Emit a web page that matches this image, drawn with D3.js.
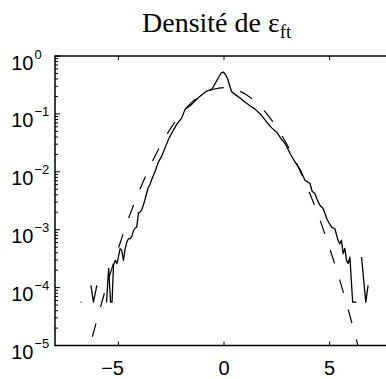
<!DOCTYPE html>
<html>
<head>
<meta charset="utf-8">
<script src="https://cdn.jsdelivr.net/npm/d3@7"></script>
<style>
body { margin: 0; background: #fff; }
svg { display: block; }
.tick-label { font-family: "Liberation Sans", Arial, Helvetica, sans-serif; fill: #000; }
</style>
</head>
<body>
<div id="chart"></div>
<script>
var W = 386, H = 379;
var margin = { top: 56, left: 55 }, plotW = 338, plotH = 289.5;

// tick values
var xTicks = [-5, 0, 5];
var yExps = [0, -1, -2, -3, -4, -5];

// gaussian fit (dashed)
var gaussX = [-6.6, -6.4, -6, -5.5, -5, -4.5, -4, -3.5, -3, -2.5, -2, -1.5, -1, -0.5, 0,
              0.5, 1, 1.5, 2, 2.5, 3, 3.5, 4, 4.5, 5, 5.5, 6, 6.4, 6.6];
var gaussY = [4.3e-6, 8.3e-6, 2.9e-5, 1.27e-4, 4.8e-4, 1.63e-3, 4.8e-3, 1.25e-2, 2.87e-2, 5.8e-2, 0.103, 0.161, 0.221, 0.267, 0.285,
              0.267, 0.221, 0.161, 0.103, 5.8e-2, 2.87e-2, 1.25e-2, 4.8e-3, 1.63e-3, 4.8e-4, 1.27e-4, 2.9e-5, 8.3e-6, 4.3e-6];

// empirical density (solid), 0 = empty bin
var empX = [-6.79, -6.74, -6.5,
  -6.30, -6.18, -6.02, -5.8,
  -5.56, -5.46, -5.37, -5.30, -5.23, -5.15, -5.07, -5.00, -4.92, -4.84, -4.76, -4.68, -4.60, -4.52,
  -4.44, -4.36, -4.29, -4.21, -4.13, -4.05, -3.97, -3.89, -3.82, -3.74, -3.65, -3.58, -3.50, -3.42,
  -3.26, -3.11, -2.95, -2.79, -2.63, -2.47, -2.24, -2.00, -1.84, -1.53, -1.22, -0.82, -0.58, -0.43,
  -0.27, -0.14, -0.03, 0.05, 0.16, 0.26, 0.36, 0.57, 0.79, 0.99, 1.26, 1.47, 1.74, 2.05, 2.27, 2.52,
  2.70, 2.92, 3.15, 3.39, 3.62, 3.83, 4.07, 4.17, 4.30, 4.41, 4.54, 4.69, 4.88, 5.09, 5.25, 5.40,
  5.48, 5.56, 5.64, 5.72, 5.80, 5.88, 5.96, 6.09, 6.27, 6.39, 6.51, 6.71, 6.82];
var empY = [5.6e-5, 5.6e-5, 0,
  1.09e-4, 5.6e-5, 1.09e-4, 0,
  5.6e-5, 2.15e-4, 5.6e-5, 5.6e-5, 2.42e-4, 2.96e-4, 2.59e-4, 3.37e-4, 4.71e-4, 4.40e-4, 2.96e-4, 4.71e-4, 6.12e-4, 7.01e-4,
  7.01e-4, 7.69e-4, 9.57e-4, 1.06e-3, 1.11e-3, 1.95e-3, 2.02e-3, 2.23e-3, 2.64e-3, 3.32e-3, 4.44e-3, 5.42e-3, 6.10e-3, 7.36e-3,
  1.02e-2, 1.47e-2, 1.86e-2, 2.59e-2, 3.62e-2, 4.71e-2, 6.58e-2, 8.57e-2, 0.120, 0.146, 0.190, 0.248, 0.265, 0.328,
  0.416, 0.508, 0.529, 0.488, 0.416, 0.315, 0.241, 0.211, 0.184, 0.160, 0.136, 0.121, 0.098, 0.0702, 0.0568, 0.0471,
  0.0374, 0.0297, 0.0199, 0.0143, 0.0107, 7.16e-3, 6.28e-3, 4.62e-3, 4.21e-3, 3.32e-3, 2.64e-3, 2.32e-3, 1.50e-3, 1.11e-3, 1.04e-3, 6.56e-4,
  5.74e-4, 6.56e-4, 3.86e-4, 4.77e-4, 2.96e-4, 2.62e-4, 3.37e-4, 5.6e-5, 5.6e-5, 0, 3.37e-4, 5.6e-5, 1.09e-4];

var x = d3.scaleLinear().domain([-8, 8]).range([margin.left, margin.left + plotW]);
var y = d3.scaleLog().domain([1e-5, 1]).range([margin.top + plotH, margin.top]);

var svg = d3.select("#chart").append("svg")
    .attr("width", W)
    .attr("height", H);

svg.append("defs").append("clipPath").attr("id", "clip")
    .append("rect")
    .attr("x", x(-8)).attr("y", y(1))
    .attr("width", plotW).attr("height", plotH);

// title
var title = svg.append("text")
    .attr("x", 142)
    .attr("y", 31.5)
    .style("font-family", "'Liberation Serif', 'Times New Roman', Times, serif")
    .style("font-size", "28px")
    .style("fill", "#000");
title.append("tspan").text("Densité de ");
title.append("tspan").text("ε");
title.append("tspan").attr("dy", 6).style("font-size", "19px").text("ft");

// curves
var gauss = gaussX.map(function (d, i) { return { x: d, y: gaussY[i] }; });
var emp = empX.map(function (d, i) { return { x: d, y: empY[i] }; });

var lineG = d3.line()
    .x(function (d) { return x(d.x); })
    .y(function (d) { return y(d.y); })
    .curve(d3.curveNatural);

var lineE = d3.line()
    .defined(function (d) { return d.y > 0; })
    .x(function (d) { return x(d.x); })
    .y(function (d) { return y(d.y); });

var plot = svg.append("g").attr("clip-path", "url(#clip)");

plot.append("path")
    .datum(gauss)
    .attr("d", lineG)
    .attr("fill", "none")
    .attr("stroke", "#000")
    .attr("stroke-width", 1.2)
    .attr("stroke-dasharray", "14,17");

plot.append("path")
    .datum(emp)
    .attr("d", lineE)
    .attr("fill", "none")
    .attr("stroke", "#000")
    .attr("stroke-width", 1.3)
    .attr("stroke-linejoin", "round");

// axes box
var x0 = x(-8), x1 = x(8), yTop = y(1), yBot = y(1e-5);
svg.append("rect")
    .attr("x", x0).attr("y", yTop)
    .attr("width", plotW).attr("height", plotH)
    .attr("fill", "none")
    .attr("stroke", "#000")
    .attr("stroke-width", 1.5);

// x ticks (inside, top and bottom)
xTicks.forEach(function (t) {
    svg.append("line").attr("x1", x(t)).attr("x2", x(t))
        .attr("y1", yBot).attr("y2", yBot - 4).attr("stroke", "#000").attr("stroke-width", 1);
    svg.append("line").attr("x1", x(t)).attr("x2", x(t))
        .attr("y1", yTop).attr("y2", yTop + 4).attr("stroke", "#000").attr("stroke-width", 1);
    svg.append("text")
        .attr("class", "tick-label")
        .attr("x", x(t))
        .attr("dx", t < 0 ? -5.8 : 0)
        .attr("y", 375)
        .style("font-size", "20px")
        .style("text-anchor", "middle")
        .text(t < 0 ? "\u2212" + Math.abs(t) : String(t));
});

// y ticks: major + minor (log)
var minor = [];
for (var k = -5; k < 0; k++) {
    for (var m = 2; m <= 9; m++) minor.push(m * Math.pow(10, k));
}
minor.forEach(function (v) {
    [[x0, 3], [x1, -3]].forEach(function (s) {
        svg.append("line").attr("x1", s[0]).attr("x2", s[0] + s[1])
            .attr("y1", y(v)).attr("y2", y(v)).attr("stroke", "#000").attr("stroke-width", 1);
    });
});
yExps.forEach(function (e) {
    var v = Math.pow(10, e);
    [[x0, 5], [x1, -5]].forEach(function (s) {
        svg.append("line").attr("x1", s[0]).attr("x2", s[0] + s[1])
            .attr("y1", y(v)).attr("y2", y(v)).attr("stroke", "#000").attr("stroke-width", 1);
    });
    svg.append("text")
        .attr("class", "tick-label")
        .attr("x", 33.5)
        .attr("y", y(v) + 13.5)
        .style("font-size", "20px")
        .style("text-anchor", "end")
        .text("10");
    svg.append("text")
        .attr("class", "tick-label")
        .attr("x", 34.5)
        .attr("y", y(v) + 2.5)
        .style("font-size", "13px")
        .text(e < 0 ? "\u2212" + Math.abs(e) : String(e));
});
</script>
</body>
</html>
